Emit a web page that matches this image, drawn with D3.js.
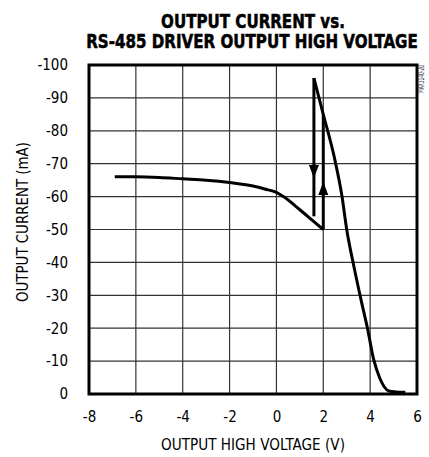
<!DOCTYPE html>
<html>
<head>
<meta charset="utf-8">
<script src="https://cdn.jsdelivr.net/npm/d3@7"></script>
<style>
  body { margin: 0; background: #fff; }
  text { font-family: "DejaVu Sans", sans-serif; font-stretch: condensed; }
</style>
</head>
<body>
<script>
var svgWidth = 429;
var svgHeight = 457;

var margin = { top: 65, right: 12, bottom: 63, left: 89 };

var chartWidth = svgWidth - margin.left - margin.right;
var chartHeight = svgHeight - margin.top - margin.bottom;

// DATA
var xTicks = [-8, -6, -4, -2, 0, 2, 4, 6];
var yTicks = [0, -10, -20, -30, -40, -50, -60, -70, -80, -90, -100];

// rising branch, left side
var lowV = [-6.9, -6, -5, -4, -3, -2, -1, -0.5, 0, 0.3, 1, 1.5, 2];
var lowI = [-66, -66, -65.8, -65.4, -65, -64.3, -63.2, -62.3, -61.3, -60, -56, -53, -50];

// falling branch, right side
var highV = [1.6, 2, 2.5, 2.8, 3.0, 3.3, 3.6, 3.9, 4.15, 4.4, 4.6, 4.8, 5.1, 5.5];
var highI = [-96, -85, -71, -60, -50, -39, -29, -19.5, -10.5, -5, -2.2, -0.9, -0.6, -0.5];

// hysteresis jumps: [voltage, from current, to current]
var jumpDown = [1.6, -96, -54];
var jumpUp = [2.0, -50, -85];

// arrow heads: [voltage, base current, tip current]
var arrowDown = [1.6, -69.6, -65.6];
var arrowUp = [2.0, -60.5, -64.5];

var svg = d3.select("body")
  .append("svg")
  .attr("width", svgWidth)
  .attr("height", svgHeight);

// squeeze a text horizontally to a given width (reference uses a condensed face)
function fitText(sel, width, x, y, rotate) {
  var len = sel.node().getComputedTextLength();
  var k = Math.min(1, width / len);
  sel.attr("x", 0).attr("y", 0)
    .attr("text-anchor", "middle")
    .attr("transform", `translate(${x}, ${y})` + (rotate ? ` rotate(${rotate})` : "") + ` scale(${k}, 1)`);
}

// TITLE
var t1 = svg.append("text")
  .style("font-size", "19px").style("font-weight", "bold")
  .attr("stroke", "#000").attr("stroke-width", 0.5)
  .text("OUTPUT CURRENT vs.");
fitText(t1, 184, 253, 28);

var t2 = svg.append("text")
  .style("font-size", "19px").style("font-weight", "bold")
  .attr("stroke", "#000").attr("stroke-width", 0.5)
  .text("RS-485 DRIVER OUTPUT HIGH VOLTAGE");
fitText(t2, 332, 252, 48);

var chartGroup = svg.append("g")
  .attr("transform", `translate(${margin.left}, ${margin.top})`);

// SCALES
var xScale = d3.scaleLinear().domain([-8, 6]).range([0, chartWidth]);
var yScale = d3.scaleLinear().domain([0, -100]).range([chartHeight, 0]);

// GRID
chartGroup.append("g")
  .selectAll("line")
  .data(xTicks)
  .enter()
  .append("line")
  .attr("x1", d => xScale(d)).attr("x2", d => xScale(d))
  .attr("y1", 0).attr("y2", chartHeight)
  .attr("stroke", "#333").attr("stroke-width", 1.2);

chartGroup.append("g")
  .selectAll("line")
  .data(yTicks)
  .enter()
  .append("line")
  .attr("x1", 0).attr("x2", chartWidth)
  .attr("y1", d => yScale(d)).attr("y2", d => yScale(d))
  .attr("stroke", "#333").attr("stroke-width", 1.2);

// AXES (labels only, frame drawn separately)
var bottomAxis = d3.axisBottom(xScale).tickValues(xTicks).tickFormat(d => String(d))
  .tickSize(0).tickPadding(17);
var leftAxis = d3.axisLeft(yScale).tickValues(yTicks).tickFormat(d => String(d))
  .tickSize(0).tickPadding(21);

var gx = chartGroup.append("g")
  .attr("transform", `translate(0, ${chartHeight})`)
  .call(bottomAxis);
var gy = chartGroup.append("g").call(leftAxis);

[gx, gy].forEach(function(g) {
  g.select(".domain").remove();
  g.selectAll("text")
    .style("font-family", '"DejaVu Sans", sans-serif')
    .style("font-stretch", "condensed")
    .style("font-size", "15px")
    .attr("fill", "#000");
});

// FRAME
chartGroup.append("rect")
  .attr("x", 0).attr("y", 0)
  .attr("width", chartWidth).attr("height", chartHeight)
  .attr("fill", "none").attr("stroke", "#000").attr("stroke-width", 3);

// CURVES
var line = d3.line()
  .x(d => xScale(d[0]))
  .y(d => yScale(d[1]))
  .curve(d3.curveMonotoneX);

var lowData = lowV.map((v, i) => [v, lowI[i]]);
var highData = highV.map((v, i) => [v, highI[i]]);

[lowData, highData].forEach(function(data) {
  chartGroup.append("path")
    .datum(data)
    .attr("d", line)
    .attr("fill", "none")
    .attr("stroke", "#000")
    .attr("stroke-width", 3)
    .attr("stroke-linejoin", "round");
});

[jumpDown, jumpUp].forEach(function(j) {
  chartGroup.append("line")
    .attr("x1", xScale(j[0])).attr("x2", xScale(j[0]))
    .attr("y1", yScale(j[1])).attr("y2", yScale(j[2]))
    .attr("stroke", "#000").attr("stroke-width", 3);
});

// ARROW HEADS
[arrowDown, arrowUp].forEach(function(a) {
  var cx = xScale(a[0]);
  var yb = yScale(a[1]);
  var yt = yScale(a[2]);
  chartGroup.append("path")
    .attr("d", `M${cx - 5},${yb} L${cx + 5},${yb} L${cx},${yt} Z`)
    .attr("fill", "#000");
});

// AXIS TITLES
var xt = svg.append("text")
  .style("font-size", "16px")
  .text("OUTPUT HIGH VOLTAGE (V)");
fitText(xt, 184, margin.left + chartWidth / 2, 450);

var yt = svg.append("text")
  .style("font-size", "16px")
  .text("OUTPUT CURRENT (mA)");
fitText(yt, 160, 28, 222, -90);

// PART NUMBER
var pn = svg.append("text")
  .style("font-size", "9px")
  .attr("fill", "#333")
  .text("MAX3140-20");
fitText(pn, 28, 424, 79, -90);
</script>
</body>
</html>
